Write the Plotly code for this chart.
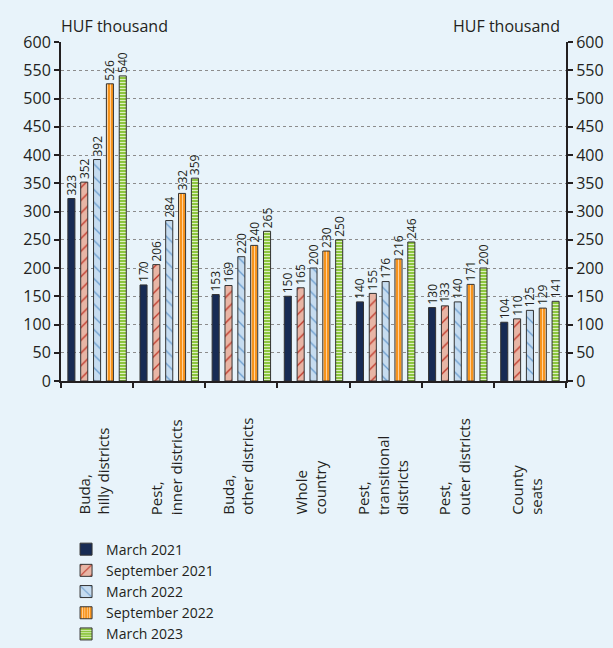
import plotly.graph_objects as go

categories = ["Buda,<br>hilly districts", "Pest,<br>inner districts", "Buda,<br>other districts",
              "Whole<br>country", "Pest,<br>transitional<br>districts", "Pest,<br>outer districts",
              "County<br>seats"]
cat_keys = ["c1", "c2", "c3", "c4", "c5", "c6", "c7"]
series_names = ["March 2021", "September 2021", "March 2022", "September 2022", "March 2023"]
mar21 = [323, 170, 153, 150, 140, 130, 104]
sep21 = [352, 206, 169, 165, 155, 133, 110]
mar22 = [392, 284, 220, 200, 176, 140, 125]
sep22 = [526, 332, 240, 230, 216, 171, 129]
mar23 = [540, 359, 265, 250, 246, 200, 141]
y_ticks = [0, 50, 100, 150, 200, 250, 300, 350, 400, 450, 500, 550, 600]

BG = "#E8F3FA"
FONT = "Open Sans"
TXT = "#231F20"

styles = [
    dict(color="#172B54", pattern=None),
    dict(color="#E8B5A5", pattern=dict(shape="/", fgcolor="#C0392B", bgcolor="#E8B5A5", size=9, solidity=0.15)),
    dict(color="#C6DCF0", pattern=dict(shape="\\", fgcolor="#6E9FCF", bgcolor="#C6DCF0", size=9, solidity=0.15)),
    dict(color="#F7941D", pattern=dict(shape="|", fgcolor="#FFD8A8", bgcolor="#F7941D", size=3, solidity=0.3)),
    dict(color="#8DC63F", pattern=dict(shape="-", fgcolor="#E6F4CF", bgcolor="#8DC63F", size=3, solidity=0.3)),
]

fig = go.Figure()
for name, vals, st in zip(series_names, [mar21, sep21, mar22, sep22, mar23], styles):
    marker = dict(color=st["color"], line=dict(color="#333333", width=1))
    if st["pattern"]:
        marker["pattern"] = dict(fillmode="replace", **st["pattern"])
    fig.add_trace(go.Bar(
        name=name, x=cat_keys, y=vals, marker=marker,
        text=[str(v) for v in vals], textposition="outside", textangle=-90,
        constraintext="none", cliponaxis=False,
        textfont=dict(family=FONT, size=12, color=TXT),
    ))

# invisible trace to hold right axis
fig.add_trace(go.Scatter(x=cat_keys, y=mar21, yaxis="y2", mode="none",
                         showlegend=False, hoverinfo="skip"))

annotations = [
    dict(text="HUF thousand", xref="paper", yref="paper", x=-0.004, y=1.047,
         xanchor="left", yanchor="middle", showarrow=False,
         font=dict(family=FONT, size=16, color=TXT)),
    dict(text="HUF thousand", xref="paper", yref="paper", x=0.992, y=1.047,
         xanchor="right", yanchor="middle", showarrow=False,
         font=dict(family=FONT, size=16, color=TXT)),
]
for k, c in zip(cat_keys, categories):
    annotations.append(dict(text=c, xref="x", yref="paper", x=k, y=-0.401, xshift=-3,
                            xanchor="center", yanchor="bottom", textangle=-90,
                            align="left", showarrow=False,
                            font=dict(family=FONT, size=15, color=TXT)))

axis_common = dict(range=[0, 600], tickvals=y_ticks, showline=True, linecolor="#231F20",
                   linewidth=2, ticks="outside", ticklen=5, tickwidth=2, tickcolor="#231F20",
                   tickfont=dict(family=FONT, size=16, color=TXT), fixedrange=True)

fig.update_layout(
    width=613, height=648,
    margin=dict(l=61, r=47, t=42, b=267, autoexpand=False),
    paper_bgcolor=BG, plot_bgcolor=BG,
    barmode="group", bargap=0.11, bargroupgap=0.45,
    font=dict(family=FONT, color=TXT),
    xaxis=dict(type="category", showticklabels=False, showline=True, linecolor="#231F20",
               linewidth=2, ticks="outside", tickson="boundaries", ticklen=5, tickwidth=2,
               tickcolor="#231F20", showgrid=False),
    yaxis=dict(**axis_common, showgrid=True, gridcolor="#8C8C8C", griddash="dot", gridwidth=1,
               zeroline=False),
    yaxis2=dict(**axis_common, overlaying="y", side="right", showgrid=False, zeroline=False),
    legend=dict(x=0.01, y=-0.45, xanchor="left", yanchor="top", bgcolor="rgba(0,0,0,0)",
                font=dict(family=FONT, size=14, color=TXT), tracegroupgap=0),
    annotations=annotations,
    showlegend=True,
)

fig.write_html("out.html")
